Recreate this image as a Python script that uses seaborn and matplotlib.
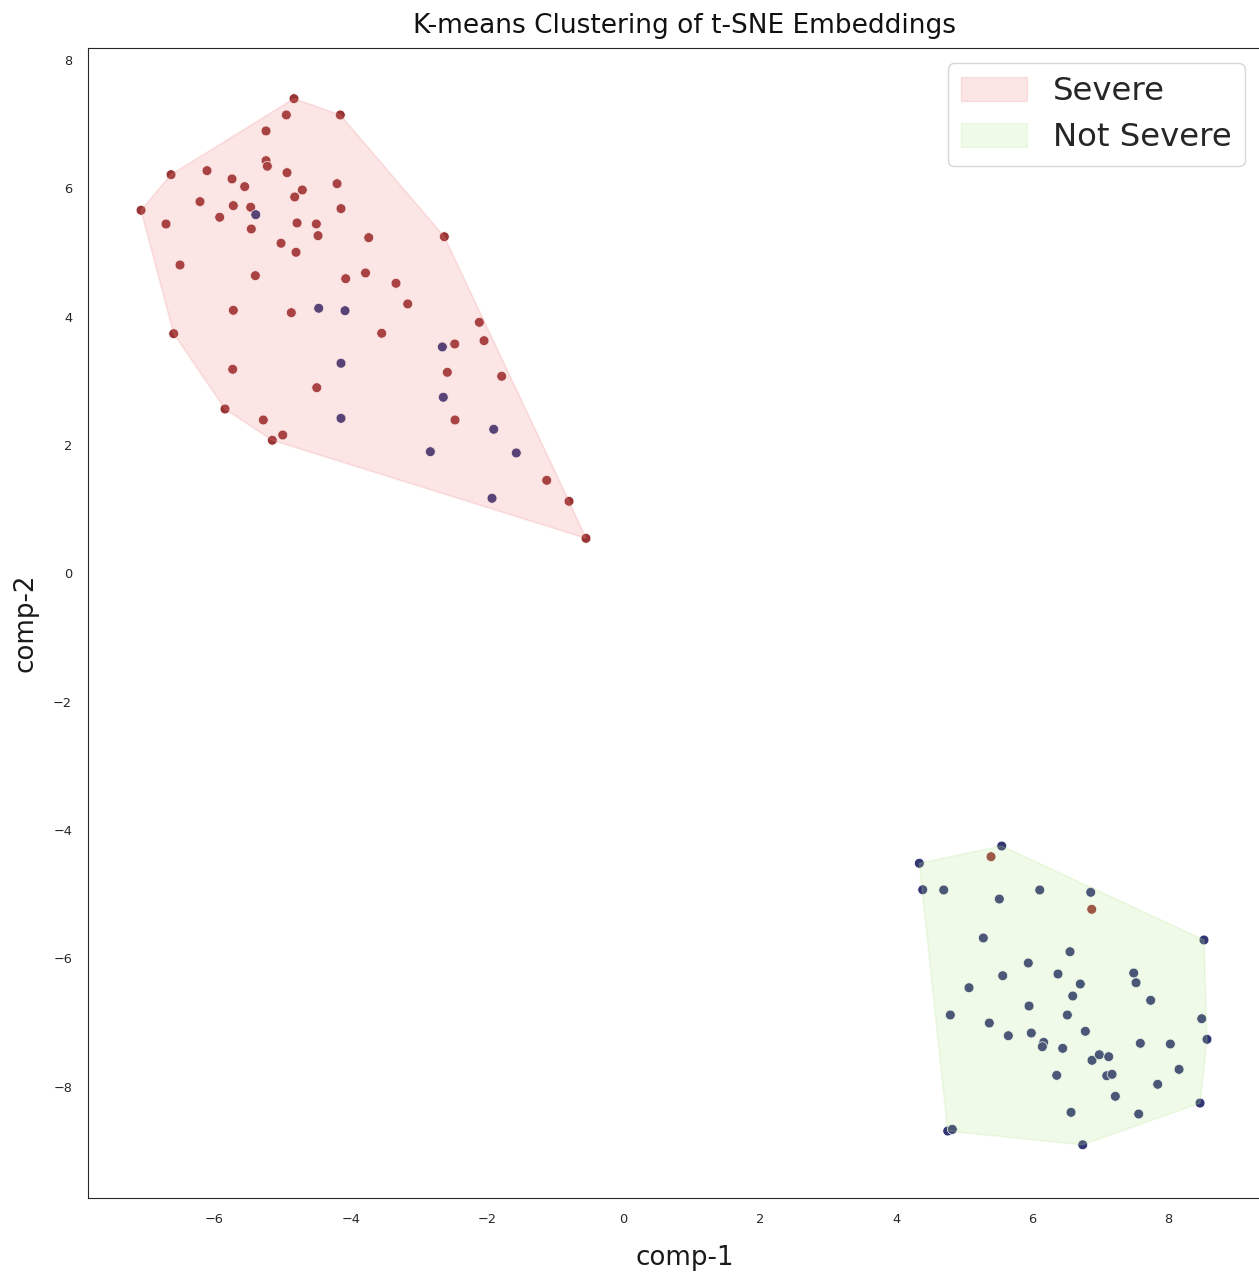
import numpy as np
import pandas as pd
import matplotlib
matplotlib.use("Agg")
import matplotlib.pyplot as plt
import matplotlib.patches as mpatches
import seaborn as sns

# ---------------- data ----------------
# cluster 0 ("Severe" k-means cluster)
c0_x = [-4.834, -4.946, -4.154, -5.244, -5.244, -5.225, -4.936, -6.638, -6.110, -5.743,
        -5.557, -4.712, -4.823, -4.202, -6.213, -5.724, -5.469, -5.395, -4.144, -7.078,
        -5.924, -6.712, -5.460, -4.789, -4.506, -4.481, -3.737, -5.024, -4.804, -6.506,
        -5.401, -4.075, -3.784, -2.628, -3.337, -3.165, -5.724, -4.873, -4.471, -4.085,
        -6.599, -3.547, -2.114, -2.045, -2.475, -2.657, -5.733, -4.144, -2.584, -1.786,
        -4.500, -2.643, -5.846, -5.284, -4.144, -2.471, -4.999, -5.152, -1.903, -2.833,
        -1.572, -1.125, -0.798, -1.928, -0.549]
c0_y = [7.396, 7.142, 7.142, 6.893, 6.430, 6.343, 6.243, 6.212, 6.274, 6.145,
        6.025, 5.973, 5.864, 6.071, 5.791, 5.729, 5.704, 5.588, 5.682, 5.657,
        5.548, 5.443, 5.365, 5.459, 5.443, 5.261, 5.230, 5.143, 5.002, 4.804,
        4.638, 4.591, 4.680, 5.245, 4.519, 4.197, 4.098, 4.061, 4.130, 4.092,
        3.734, 3.740, 3.911, 3.625, 3.573, 3.527, 3.179, 3.273, 3.132, 3.070,
        2.892, 2.743, 2.560, 2.389, 2.415, 2.389, 2.155, 2.073, 2.244, 1.895,
        1.875, 1.449, 1.122, 1.169, 0.545]
c0_true = ["S", "S", "S", "S", "S", "S", "S", "S", "S", "S",
           "S", "S", "S", "S", "S", "S", "S", "N", "S", "S",
           "S", "S", "S", "S", "S", "S", "S", "S", "S", "S",
           "S", "S", "S", "S", "S", "S", "S", "S", "N", "N",
           "S", "S", "S", "S", "S", "N", "S", "N", "S", "S",
           "S", "N", "S", "S", "N", "S", "S", "S", "N", "N",
           "N", "S", "S", "N", "S"]

# cluster 1 ("Not Severe" k-means cluster)
c1_x = [5.551, 5.394, 4.342, 4.392, 4.700, 5.516, 6.109, 6.857, 6.872, 8.519,
        5.281, 6.553, 5.941, 5.566, 6.377, 7.488, 7.522, 6.704, 5.071, 6.593,
        7.737, 5.952, 4.797, 6.514, 8.486, 5.369, 5.648, 5.985, 6.778, 6.167,
        6.147, 6.446, 7.585, 8.025, 8.563, 6.876, 6.983, 7.121, 6.358, 7.092,
        7.170, 8.153, 7.840, 7.218, 8.461, 6.568, 7.561, 4.759, 4.826, 6.740]
c1_y = [-4.250, -4.416, -4.519, -4.931, -4.935, -5.076, -4.935, -4.971, -5.236, -5.714,
        -5.683, -5.897, -6.073, -6.271, -6.244, -6.229, -6.380, -6.400, -6.458, -6.587,
        -6.654, -6.743, -6.883, -6.883, -6.941, -7.008, -7.206, -7.164, -7.137, -7.309,
        -7.377, -7.402, -7.324, -7.335, -7.262, -7.589, -7.502, -7.533, -7.823, -7.829,
        -7.807, -7.730, -7.963, -8.150, -8.255, -8.400, -8.426, -8.691, -8.665, -8.905]
c1_true = ["N", "S", "N", "N", "N", "N", "N", "N", "S", "N",
           "N", "N", "N", "N", "N", "N", "N", "N", "N", "N",
           "N", "N", "N", "N", "N", "N", "N", "N", "N", "N",
           "N", "N", "N", "N", "N", "N", "N", "N", "N", "N",
           "N", "N", "N", "N", "N", "N", "N", "N", "N", "N"]

cluster_names = ["Severe", "Not Severe"]
x_ticks = [-6, -4, -2, 0, 2, 4, 6, 8]
y_ticks = [-8, -6, -4, -2, 0, 2, 4, 6, 8]

# ---------------- styling ----------------
sns.set_style("white")
plt.rcParams["font.family"] = ["DejaVu Sans"]

point_colors = {"S": "#983434", "N": "#323473"}
hull_colors = ["#f08080", "#b4e68c"]
hull_alpha = 0.2


def convex_hull(xs, ys):
    pts = sorted(set(zip(xs, ys)))

    def cross(o, a, b):
        return (a[0] - o[0]) * (b[1] - o[1]) - (a[1] - o[1]) * (b[0] - o[0])

    lower, upper = [], []
    for p in pts:
        while len(lower) >= 2 and cross(lower[-2], lower[-1], p) <= 0:
            lower.pop()
        lower.append(p)
    for p in reversed(pts):
        while len(upper) >= 2 and cross(upper[-2], upper[-1], p) <= 0:
            upper.pop()
        upper.append(p)
    hull = lower[:-1] + upper[:-1]
    return [p[0] for p in hull], [p[1] for p in hull]


df = pd.DataFrame({
    "comp-1": c0_x + c1_x,
    "comp-2": c0_y + c1_y,
    "true": c0_true + c1_true,
    "cluster": [0] * len(c0_x) + [1] * len(c1_x),
})

W, H = 1259, 1275
fig = plt.figure(figsize=(W / 100, H / 100), dpi=100)
ax_l, ax_r, ax_t, ax_b = 88.3, 1281.0, 47.7, 1197.7
ax = fig.add_axes([ax_l / W, 1 - ax_b / H, (ax_r - ax_l) / W, (ax_b - ax_t) / H])

sns.scatterplot(data=df, x="comp-1", y="comp-2", hue="true", palette=point_colors,
                s=50, alpha=1.0, edgecolor="white", linewidth=0.5,
                legend=False, ax=ax, zorder=1)

for k, (xs, ys) in enumerate([(c0_x, c0_y), (c1_x, c1_y)]):
    hx, hy = convex_hull(xs, ys)
    ax.fill(hx, hy, facecolor=hull_colors[k], edgecolor=hull_colors[k],
            alpha=hull_alpha, linewidth=1.2, zorder=2)

ax.set_xlim(-7.852, 9.649)
ax.set_ylim(-9.73, 8.19)
ax.set_xticks(x_ticks)
ax.set_yticks(y_ticks)
ax.tick_params(axis="x", length=0, pad=11, labelsize=9.3)
ax.tick_params(axis="y", length=0, pad=11.7, labelsize=9.3)
ax.set_xlabel("comp-1", fontsize=18.8, labelpad=13.6, color="#1a1a1a")
ax.set_ylabel("comp-2", fontsize=18.8, labelpad=10.8, color="#1a1a1a")
ax.set_title("K-means Clustering of t-SNE Embeddings", fontsize=19, pad=10.3,
             color="#111111")

handles = [mpatches.Patch(facecolor=hull_colors[k], edgecolor=hull_colors[k],
                          alpha=hull_alpha, label=cluster_names[k]) for k in range(2)]
ax.legend(handles=handles, loc="upper right",
          bbox_to_anchor=(1244.7 / W, 1 - 63.3 / H), bbox_transform=fig.transFigure,
          borderaxespad=0, fontsize=23.3, labelspacing=0.47,
          handlelength=2.05, handleheight=0.75, handletextpad=0.8,
          frameon=True)

fig.savefig("out.png", dpi=100)
